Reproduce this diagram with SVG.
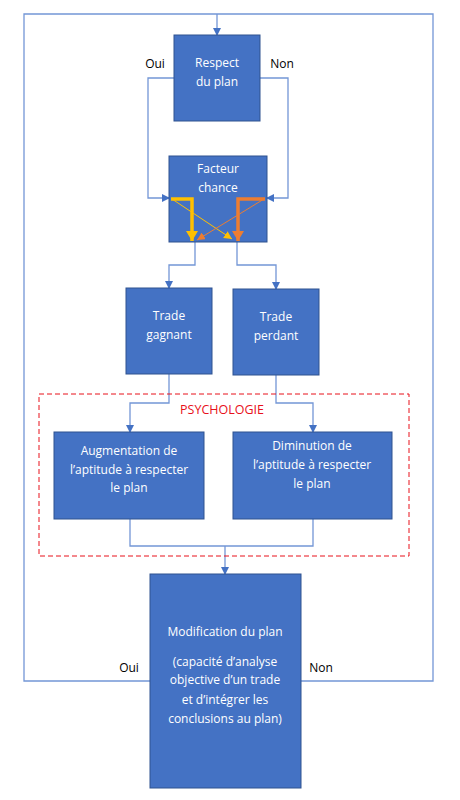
<svg xmlns="http://www.w3.org/2000/svg" width="460" height="800" viewBox="0 0 460 800">
<defs>
<style>
.node{fill:#4472C4;stroke:#2F528F;stroke-width:1}
.t{font-family:"Open Sans","Noto Sans",sans-serif;font-size:12px;fill:#fff;text-anchor:middle}
.lbl{font-family:"Open Sans","Noto Sans",sans-serif;font-size:12px;fill:#000;text-anchor:middle}
.c{fill:none;stroke:#7396D6;stroke-width:1.3}
</style>
<marker id="ah" markerWidth="8" markerHeight="8" refX="7" refY="4" orient="auto" markerUnits="userSpaceOnUse">
<path d="M0,0 L8,4 L0,8 Z" fill="#4472C4"/>
</marker>
<marker id="ay" markerWidth="10" markerHeight="12" refX="10" refY="6" orient="auto" markerUnits="userSpaceOnUse">
<path d="M0,0 L10,6 L0,12 Z" fill="#FFC000"/>
</marker>
<marker id="ao" markerWidth="10" markerHeight="12" refX="10" refY="6" orient="auto" markerUnits="userSpaceOnUse">
<path d="M0,0 L10,6 L0,12 Z" fill="#ED7D31"/>
</marker>
<marker id="ays" markerWidth="8" markerHeight="8" refX="8" refY="4" orient="auto" markerUnits="userSpaceOnUse">
<path d="M0,0 L8,4 L0,8 Z" fill="#FFC000"/>
</marker>
<marker id="aos" markerWidth="8" markerHeight="8" refX="8" refY="4" orient="auto" markerUnits="userSpaceOnUse">
<path d="M0,0 L8,4 L0,8 Z" fill="#ED7D31"/>
</marker>
</defs>
<rect width="460" height="800" fill="#fff"/>
<g id="connectors">
<polyline class="c" points="150,681 24,681 24,14 433,14 433,681 301,681"/>
<line class="c" x1="217" y1="14" x2="217" y2="35" marker-end="url(#ah)"/>
<polyline class="c" points="174,78 148,78 148,198 169,198" marker-end="url(#ah)"/>
<polyline class="c" points="260,78 288,78 288,198 267,198" marker-end="url(#ah)"/>
<polyline class="c" points="195,242 195,265 169,265 169,288" marker-end="url(#ah)"/>
<polyline class="c" points="237,242 237,265 276,265 276,289" marker-end="url(#ah)"/>
<polyline class="c" points="169,374 169,403 130,403 130,432" marker-end="url(#ah)"/>
<polyline class="c" points="276,375 276,403 313,403 313,432" marker-end="url(#ah)"/>
<polyline class="c" points="130,519 130,546 313,546 313,519"/>
<line class="c" x1="225" y1="546" x2="225" y2="574" marker-end="url(#ah)"/>
</g>
<g id="psychologie">
<rect x="39" y="394" width="370" height="162" fill="none" stroke="#E8101A" stroke-width="1" stroke-dasharray="5,3"/>
<text x="222" y="414" style="font-family:'Open Sans','Noto Sans',sans-serif;font-size:12.5px;fill:#E8101A;text-anchor:middle">PSYCHOLOGIE</text>
</g>
<g id="respect">
<rect class="node" x="174" y="35" width="86" height="86"/>
<text class="t" x="217" y="67">Respect</text>
<text class="t" x="217" y="86">du plan</text>
</g>
<g id="labels-top">
<text class="lbl" x="155" y="68">Oui</text>
<text class="lbl" x="282" y="68">Non</text>
</g>
<g id="facteur">
<rect class="node" x="169" y="156" width="98" height="86"/>
<text class="t" x="218" y="173">Facteur</text>
<text class="t" x="218" y="192">chance</text>
<line x1="172" y1="199" x2="232" y2="239" stroke="#FFC000" stroke-width="1" marker-end="url(#ays)"/>
<line x1="264" y1="199" x2="197" y2="240" stroke="#ED7D31" stroke-width="1" marker-end="url(#aos)"/>
<polyline points="171,199 192,199 192,241" fill="none" stroke="#FFC000" stroke-width="3.5" marker-end="url(#ay)"/>
<polyline points="265,199 238,199 238,241" fill="none" stroke="#ED7D31" stroke-width="3.5" marker-end="url(#ao)"/>
</g>
<g id="gagnant">
<rect class="node" x="126" y="288" width="86" height="86"/>
<text class="t" x="169" y="320">Trade</text>
<text class="t" x="169" y="339">gagnant</text>
</g>
<g id="perdant">
<rect class="node" x="233" y="289" width="86" height="86"/>
<text class="t" x="276" y="321">Trade</text>
<text class="t" x="276" y="340">perdant</text>
</g>
<g id="augmentation">
<rect class="node" x="54" y="432" width="150" height="87"/>
<text class="t" x="129" y="455">Augmentation de</text>
<text class="t" x="129" y="474">l’aptitude à respecter</text>
<text class="t" x="129" y="492">le plan</text>
</g>
<g id="diminution">
<rect class="node" x="233" y="432" width="159" height="87"/>
<text class="t" x="312" y="450">Diminution de</text>
<text class="t" x="312" y="469">l’aptitude à respecter</text>
<text class="t" x="312" y="488">le plan</text>
</g>
<g id="modification">
<rect class="node" x="150" y="574" width="151" height="214"/>
<text class="t" x="225" y="636">Modification du plan</text>
<text class="t" x="225" y="666">(capacité d’analyse</text>
<text class="t" x="225" y="684">objective d’un trade</text>
<text class="t" x="225" y="704">et d’intégrer les</text>
<text class="t" x="225" y="723">conclusions au plan)</text>
</g>
<g id="labels-bottom">
<text class="lbl" x="129" y="672">Oui</text>
<text class="lbl" x="321" y="672">Non</text>
</g>
</svg>
